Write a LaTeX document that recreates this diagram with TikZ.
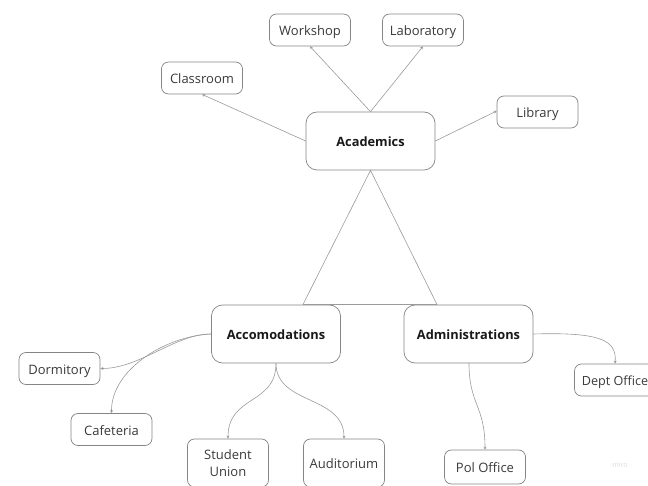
\documentclass[tikz,border=0pt]{standalone}
\usepackage{fontspec}
\setmainfont{Open Sans}
\usetikzlibrary{arrows.meta}
\definecolor{boxc}{HTML}{858585}
\definecolor{linec}{HTML}{9A9A9A}
\definecolor{txtc}{HTML}{3A3A3A}
\begin{document}
\begin{tikzpicture}[x=1pt,y=-1pt,
  leaf/.style={draw=boxc, line width=0.7pt, rounded corners=7pt, fill=white,
    minimum width=81pt, minimum height=32pt, inner sep=1pt, text=txtc,
    font=\fontsize{13}{17}\selectfont, align=center},
  onel/.style={text height=11pt, text depth=0pt},
  hub/.style={draw=boxc, line width=0.7pt, rounded corners=11pt, fill=white,
    minimum width=129pt, minimum height=58pt, inner sep=1pt, text=black!90,
    text height=11pt, text depth=0pt,
    font=\fontsize{12.8}{16}\selectfont\bfseries},
  conn/.style={draw=linec, line width=0.6pt, -{Stealth[length=3pt,width=3pt]}},
  plain/.style={draw=linec, line width=0.6pt}]
\useasboundingbox (0,0) rectangle (648,486);
% hubs
\node[hub] (acad) at (370.5,141) {Academics};
\node[hub] (acc) at (276,334) {Accomodations};
\node[hub] (adm) at (468.5,334) {Administrations};
% leaves
\node[leaf, onel] (work) at (310,30) {Workshop};
\node[leaf, onel] (lab) at (423,30) {Laboratory};
\node[leaf, onel] (class) at (202,78) {Classroom};
\node[leaf, onel] (lib) at (537.5,112) {Library};
\node[leaf, onel] (dorm) at (59.5,368.5) {Dormitory};
\node[leaf, onel] (caf) at (111.5,429.5) {Cafeteria};
\node[leaf, minimum height=48pt] (su) at (228,463) {Student\\Union};
\node[leaf, onel, minimum height=48pt] (aud) at (344,463) {Auditorium};
\node[leaf, onel, minimum height=34pt] (pol) at (485,467) {Pol Office};
\node[leaf, onel, font=\fontsize{12.6}{16}\selectfont] (dept) at (615,380) {Dept Office};
\node[text=black!14, font=\fontsize{7}{8}\selectfont] (miro) at (620,465) {miro};
% academics connectors
\draw[conn] (acad.north) -- (work.south);
\draw[conn] (acad.north) -- (lab.south);
\draw[conn] (acad.west) -- (class.south);
\draw[conn] (acad.east) -- ([yshift=1pt]lib.west);
% triangle
\coordinate (tl) at (303,304.5);
\coordinate (tr) at (437,304.5);
\draw[plain] (acad.south) -- (tl) -- (tr) -- cycle;
% accomodations curves
\draw[conn] (acc.west) .. controls (175,334) and (140,368.5) .. (dorm.east);
\draw[conn] (acc.west) .. controls (165,336) and (111,370) .. (caf.north);
\draw[conn] (acc.south) .. controls (276,405) and (228,395) .. (su.north);
\draw[conn] (acc.south) .. controls (276,405) and (344,395) .. (aud.north);
% administrations curves
\draw[conn] (adm.east) .. controls (600,332) and (617,340) .. (dept.north);
\draw[conn] (469,363) .. controls (469,405) and (485,405) .. (pol.north);
\end{tikzpicture}
\end{document}
